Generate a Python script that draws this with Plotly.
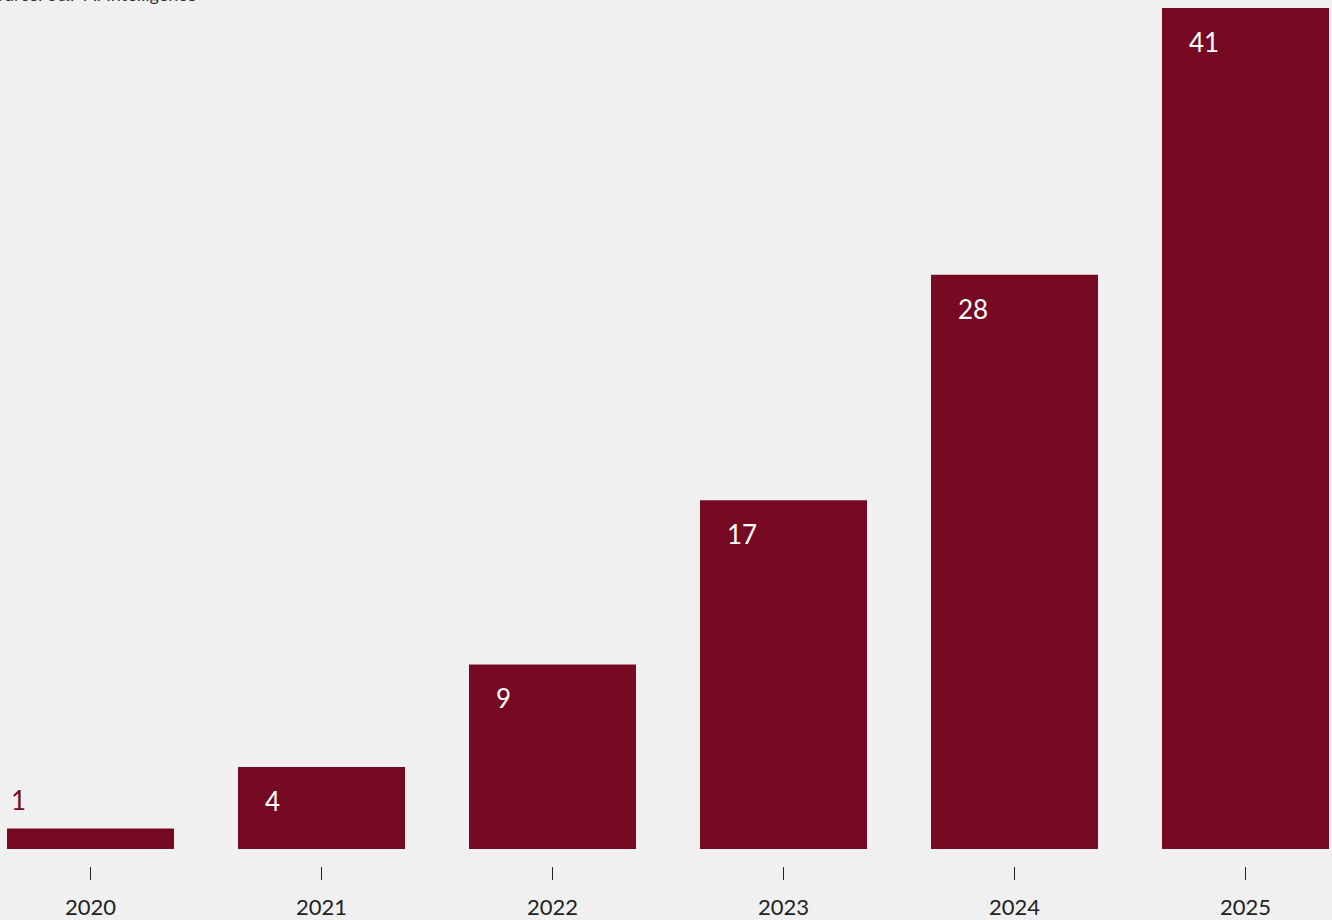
import plotly.graph_objects as go

years = ["2020", "2021", "2022", "2023", "2024", "2025"]
values = [1, 4, 9, 17, 28, 41]
source_text = "Source: S&P AI Intelligence"

BAR = "#760A22"
BG = "#F0F0F0"
FONT = "Lato, 'Noto Sans', sans-serif"

W, H = 1332, 920
mb = 54
plot_h = H - mb
gap_px = 17

fig = go.Figure()
fig.add_trace(go.Bar(x=list(range(len(years))), y=values, marker_color=BAR,
                     marker_line_width=0, width=167 / 231, hoverinfo="skip"))

ann = []
for i, v in enumerate(values):
    inside = v >= 3
    ann.append(dict(
        x=i, y=v, xref="x", yref="y", text=str(v), showarrow=False,
        xanchor="left", yanchor="middle",
        xshift=-83.5 + (25 if inside else 2),
        yshift=-34 if inside else 28,
        font=dict(family=FONT, size=26, color="white" if inside else BAR),
    ))
ann.append(dict(x=198 / W, y=1, xref="paper", yref="paper", text=source_text,
                showarrow=False, xanchor="right", yanchor="bottom", yshift=-7,
                font=dict(family=FONT, size=18, color="#333333")))

x0 = -90.5 / 231
fig.update_layout(
    width=W, height=H, paper_bgcolor=BG, plot_bgcolor=BG,
    margin=dict(l=0, r=0, t=0, b=mb), showlegend=False,
    annotations=ann,
    xaxis=dict(range=[x0, x0 + W / 231], tickmode="array",
               tickvals=list(range(len(years))), ticktext=years,
               ticks="outside", ticklen=13, tickwidth=1, tickcolor="#222222",
               showgrid=False, zeroline=False, showline=False,
               anchor="free", position=0, ticklabelstandoff=9,
               tickfont=dict(family=FONT, size=22, color="#222222")),
    yaxis=dict(domain=[gap_px / plot_h, 1], range=[0, 849 / (841 / 41)],
               visible=False, showgrid=False, zeroline=False),
)

fig.write_html("out.html", config={"displayModeBar": False},
               post_script="document.body.style.margin='0';document.body.style.overflow='hidden';")
